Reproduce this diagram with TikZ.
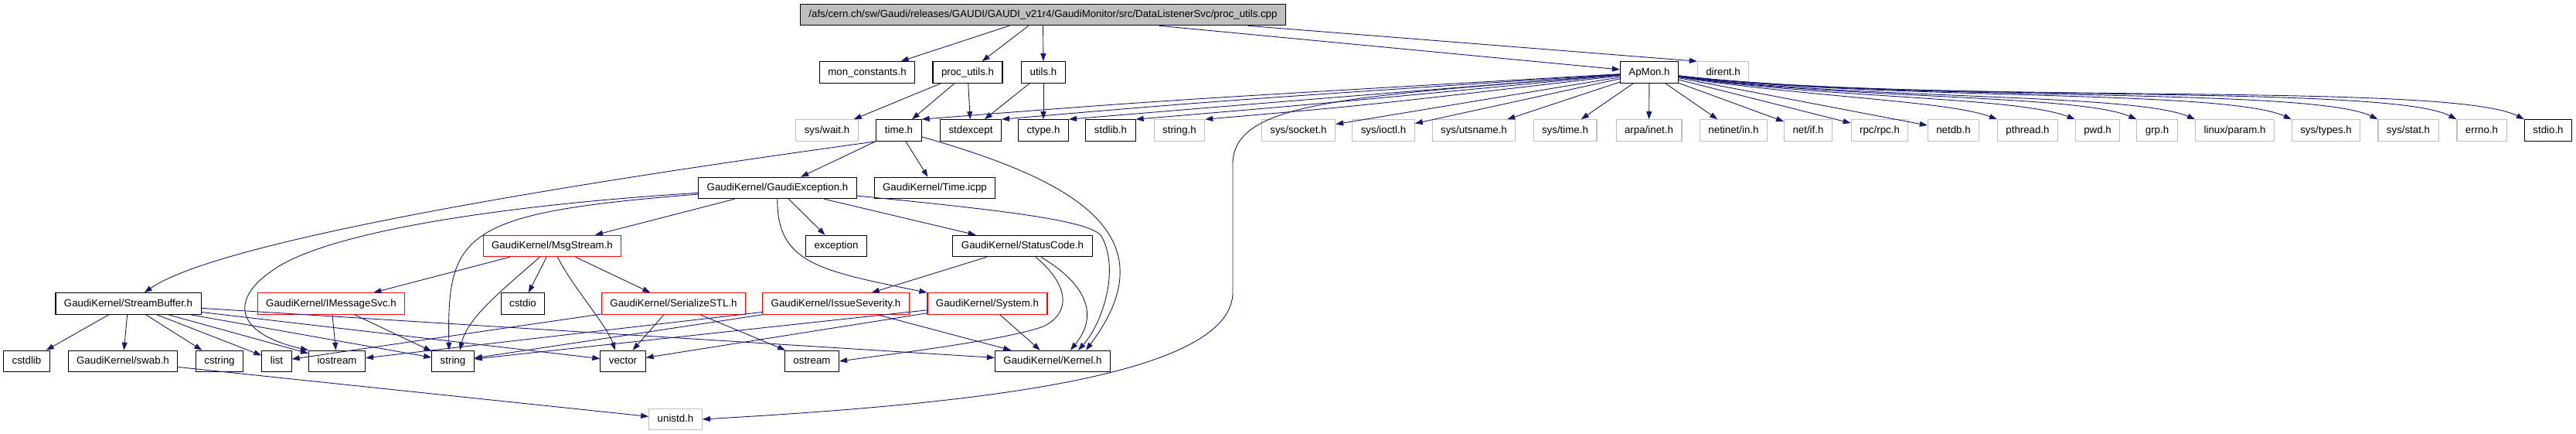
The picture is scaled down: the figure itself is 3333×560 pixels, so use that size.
\documentclass[tikz,border=0pt]{standalone}
\usepackage{fontspec}
\setmainfont{Liberation Sans}
\usetikzlibrary{arrows.meta}
\definecolor{edgeblue}{HTML}{191970}
\definecolor{docgray}{HTML}{BFBFBF}
\tikzset{
  hdr/.style={draw=black, line width=1.1pt, inner xsep=11pt, inner ysep=0pt,
    minimum height=27.5pt, text height=9.6pt, text depth=2.6pt,
    font=\fontsize{13.3}{15}\selectfont},
  nodoc/.style={hdr, draw=docgray},
  trunc/.style={hdr, draw=red},
  inc/.style={->, draw=edgeblue, line width=0.9pt},
}
\begin{document}
\begin{tikzpicture}[x=1pt, y=-1pt, >={Triangle[length=10pt,width=7pt]}]
\useasboundingbox (0,0) rectangle (3333,560);
% source file and what it includes
\node[hdr, fill=docgray] (root) at (1349.5,19) {/afs/cern.ch/sw/Gaudi/releases/GAUDI/GAUDI\_v21r4/GaudiMonitor/src/DataListenerSvc/proc\_utils.cpp};
\node[hdr] (mon) at (1122,93.5) {mon\_constants.h};
\node[hdr] (procutils) at (1252,93.5) {proc\_utils.h};
\node[hdr] (utils) at (1350,93.5) {utils.h};
\node[hdr] (apmon) at (2134,93.5) {ApMon.h};
\node[nodoc] (dirent) at (2229.5,93.5) {dirent.h};
% system headers
\node[nodoc] (syswait) at (1070,168.5) {sys/wait.h};
\node[hdr] (timeh) at (1163,168.5) {time.h};
\node[hdr] (stdexcept) at (1256,168.5) {stdexcept};
\node[hdr] (ctype) at (1350,168.5) {ctype.h};
\node[hdr] (stdlib) at (1437,168.5) {stdlib.h};
\node[nodoc] (stringh) at (1526,168.5) {string.h};
\node[nodoc] (syssocket) at (1680,168.5) {sys/socket.h};
\node[nodoc] (sysioctl) at (1790,168.5) {sys/ioctl.h};
\node[nodoc] (sysutsname) at (1907,168.5) {sys/utsname.h};
\node[nodoc] (systime) at (2025,168.5) {sys/time.h};
\node[nodoc] (arpainet) at (2133.5,168.5) {arpa/inet.h};
\node[nodoc] (netinetin) at (2243,168.5) {netinet/in.h};
\node[nodoc] (netif) at (2339.5,168.5) {net/if.h};
\node[nodoc] (rpcrpc) at (2432,168.5) {rpc/rpc.h};
\node[nodoc] (netdb) at (2527.5,168.5) {netdb.h};
\node[nodoc] (pthread) at (2623.5,168.5) {pthread.h};
\node[nodoc] (pwd) at (2714,168.5) {pwd.h};
\node[nodoc] (grp) at (2791,168.5) {grp.h};
\node[nodoc] (linuxparam) at (2891.5,168.5) {linux/param.h};
\node[nodoc] (systypes) at (3009.5,168.5) {sys/types.h};
\node[nodoc] (sysstat) at (3116,168.5) {sys/stat.h};
\node[nodoc] (errno) at (3211,168.5) {errno.h};
\node[hdr] (stdio) at (3297,168.5) {stdio.h};
% GaudiKernel
\node[hdr] (gexc) at (1006,243) {GaudiKernel/GaudiException.h};
\node[hdr] (timeicpp) at (1209.5,243) {GaudiKernel/Time.icpp};
\node[trunc] (msgstream) at (714.5,318) {GaudiKernel/MsgStream.h};
\node[hdr] (exception) at (1082,318) {exception};
\node[hdr] (statuscode) at (1323,318) {GaudiKernel/StatusCode.h};
\node[hdr] (streambuf) at (166,392.5) {GaudiKernel/StreamBuffer.h};
\node[trunc] (imsgsvc) at (428.5,392.5) {GaudiKernel/IMessageSvc.h};
\node[hdr] (cstdio) at (676.5,392.5) {cstdio};
\node[trunc] (serstl) at (871.5,392.5) {GaudiKernel/SerializeSTL.h};
\node[trunc] (issuesev) at (1081.5,392.5) {GaudiKernel/IssueSeverity.h};
\node[trunc] (system) at (1277.5,392.5) {GaudiKernel/System.h};
\node[hdr] (cstdlib) at (34.5,467) {cstdlib};
\node[hdr] (swab) at (159,467) {GaudiKernel/swab.h};
\node[hdr] (cstring) at (284,467) {cstring};
\node[hdr] (list) at (358,467) {list};
\node[hdr] (iostream) at (436,467) {iostream};
\node[hdr] (string) at (586,467) {string};
\node[hdr] (vector) at (806,467) {vector};
\node[hdr] (ostream) at (1050.5,467) {ostream};
\node[hdr] (kernel) at (1362,467) {GaudiKernel/Kernel.h};
\node[nodoc] (unistd) at (874,542) {unistd.h};

% includes of the .cpp
\draw[inc] (root) -- (mon);
\draw[inc] (root) -- (procutils);
\draw[inc] (root) -- (utils);
\draw[inc] (root) -- (apmon);
\draw[inc] ([xshift=265pt]root.south) -- (dirent.north west);
\draw[inc] (procutils) -- (syswait);
\draw[inc] (procutils) -- (timeh);
\draw[inc] (procutils) -- (stdexcept);
\draw[inc] (utils) -- (stdexcept);
\draw[inc] (utils) -- (ctype);
% ApMon.h
\draw[inc] (apmon) .. controls (1500,130) .. (timeh.north east);
\draw[inc] (apmon) .. controls (1580,130) .. (stdexcept.north east);
\draw[inc] (apmon) .. controls (1650,132) .. (ctype.north east);
\draw[inc] (apmon) .. controls (1710,134) .. (stdlib.north east);
\draw[inc] (apmon) .. controls (1770,136) .. (stringh.north east);
\draw[inc] (apmon) -- (syssocket);
\draw[inc] (apmon) -- (sysioctl);
\draw[inc] (apmon) -- (sysutsname);
\draw[inc] (apmon) -- (systime);
\draw[inc] (apmon) -- (arpainet);
\draw[inc] (apmon) -- (netinetin);
\draw[inc] (apmon) -- (netif);
\draw[inc] (apmon) -- (rpcrpc);
\draw[inc] (apmon) -- (netdb);
\draw[inc] (apmon) .. controls (2330,125) and (2520,130) .. (pthread.north west);
\draw[inc] (apmon) .. controls (2360,127) and (2610,125) .. (pwd.north west);
\draw[inc] (apmon) .. controls (2380,128) and (2690,122) .. (grp.north west);
\draw[inc] (apmon) .. controls (2400,129) and (2760,120) .. (linuxparam.north west);
\draw[inc] (apmon) .. controls (2430,130) and (2880,115) .. (systypes.north west);
\draw[inc] (apmon) .. controls (2460,132) and (2990,112) .. (sysstat.north west);
\draw[inc] (apmon) .. controls (2480,134) and (3090,108) .. (errno.north west);
\draw[inc] (apmon) .. controls (2500,136) and (3170,105) .. (stdio.north west);
\draw[inc] (apmon) .. controls (1750,125) and (1598,130) .. (1595,210) -- (1595,380)
  .. controls (1590,495) and (1200,525) .. (unistd.east);
% time.h
\draw[inc] (timeh.south west) .. controls (900,215) and (300,300) .. (streambuf);
\draw[inc] (timeh) -- (gexc);
\draw[inc] (timeh) -- (timeicpp);
\draw[inc] (timeh) .. controls (1380,230) and (1520,300) .. ([xshift=43pt]kernel.north);
% GaudiException.h
\draw[inc] (gexc) .. controls (650,265) and (420,300) .. (352,350)
  .. controls (300,385) and (300,430) .. (iostream.north west);
\draw[inc] (gexc) .. controls (600,275) and (578,300) .. ([xshift=-5pt]string.north);
\draw[inc] (gexc) -- (msgstream);
\draw[inc] (gexc) -- (exception);
\draw[inc] (gexc) .. controls (1005,340) and (1060,350) .. (system.north west);
\draw[inc] (gexc) -- (statuscode);
\draw[inc] (gexc) .. controls (1300,272) and (1410,285) .. (1425,305)
  .. controls (1450,350) and (1425,420) .. ([xshift=33pt]kernel.north);
% StatusCode.h
\draw[inc] (statuscode) -- (issuesev);
\draw[inc] (statuscode) .. controls (1385,370) and (1385,405) .. (1350,422)
  .. controls (1300,440) and (1150,458) .. (ostream.east);
\draw[inc] (statuscode) .. controls (1410,370) and (1420,410) .. ([xshift=23pt]kernel.north);
% MsgStream.h
\draw[inc] (msgstream) -- (imsgsvc);
\draw[inc] (msgstream) .. controls (650,375) and (605,410) .. ([xshift=9pt]string.north);
\draw[inc] (msgstream) -- (cstdio);
\draw[inc] (msgstream) .. controls (740,370) and (785,420) .. ([xshift=-10pt]vector.north);
\draw[inc] (msgstream) -- (serstl);
% StreamBuffer.h
\draw[inc] (streambuf) -- (cstdlib);
\draw[inc] (streambuf) -- (swab);
\draw[inc] (streambuf) -- (cstring);
\draw[inc] (streambuf) -- (list);
\draw[inc] (streambuf) -- (iostream);
\draw[inc] (streambuf) -- (string);
\draw[inc] (streambuf) -- (vector);
\draw[inc] (streambuf) -- (kernel);
% the rest
\draw[inc] (imsgsvc) -- (iostream);
\draw[inc] (imsgsvc) -- (string);
\draw[inc] (serstl) -- (list);
\draw[inc] (serstl) -- (vector);
\draw[inc] (serstl) -- (ostream);
\draw[inc] (issuesev) -- (iostream);
\draw[inc] (issuesev) -- (string);
\draw[inc] (issuesev) -- (kernel);
\draw[inc] (system) -- (string);
\draw[inc] (system) -- (vector);
\draw[inc] (system) -- (kernel);
\draw[inc] (swab) -- (unistd);
\end{tikzpicture}
\end{document}
